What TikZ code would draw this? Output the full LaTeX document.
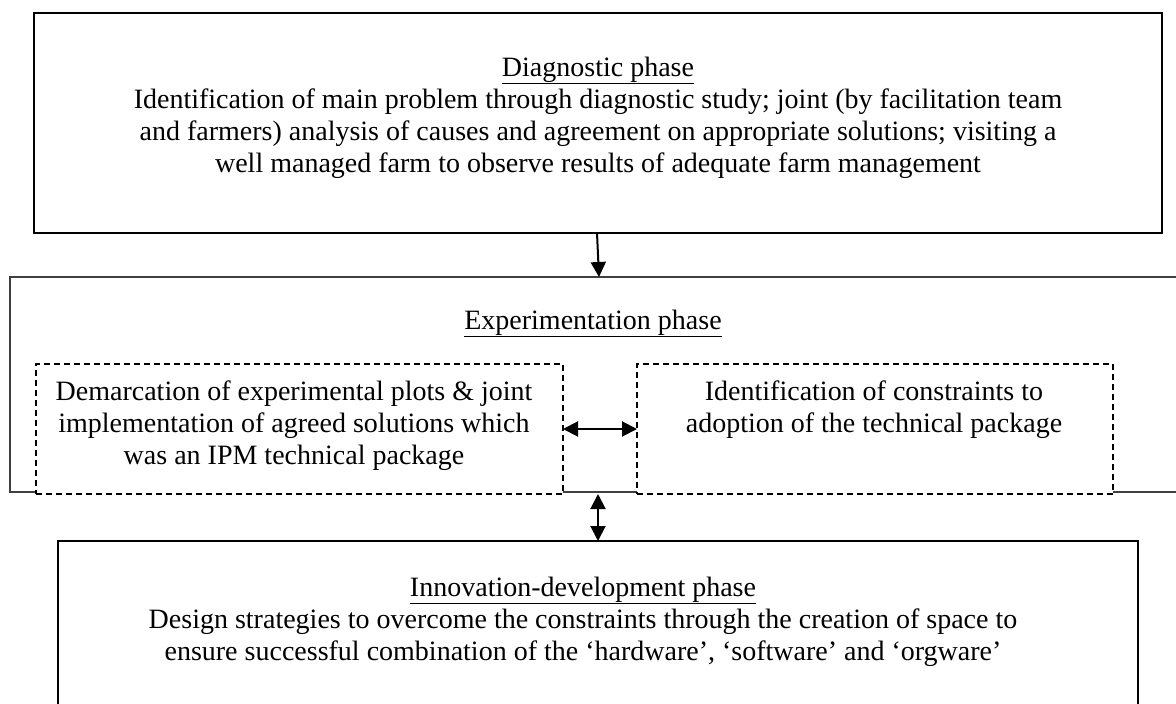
\documentclass[tikz,border=0pt]{standalone}
\usepackage{fontspec}
\setmainfont{Liberation Serif}
\usetikzlibrary{arrows.meta}
\begin{document}
\begin{tikzpicture}[x=1pt,y=-1pt,
  >={Triangle[length=15pt,width=15pt]},
  phasebox/.style={draw=black,line width=2pt,minimum width=#1,inner sep=0pt,outer sep=0pt},
  groupbox/.style={draw=black!75,line width=2pt,inner sep=0pt,outer sep=0pt},
  subbox/.style={draw=black,fill=white,line width=2pt,dash pattern=on 6pt off 4pt,inner sep=0pt,outer sep=0pt},
  txt/.style={anchor=base,inner sep=0pt,font=\fontsize{28}{32}\selectfont},
  link/.style={line width=2pt}]
\useasboundingbox (0,0) rectangle (1176,704);

% Diagnostic phase
\node[phasebox=1128pt,minimum height=220pt] (diag) at (598,123) {};
\node[txt] (diagtxt) at (598,76) {\begin{tabular}[t]{@{}c@{}}
\underline{Diagnostic phase}\\
Identification of main problem through diagnostic study; joint (by facilitation team\\
and farmers) analysis of causes and agreement on appropriate solutions; visiting a\\
well managed farm to observe results of adequate farm management
\end{tabular}};

% Experimentation phase with its two activities
\node[groupbox,minimum width=1168pt,minimum height=215pt] (exp) at (594,384.5) {};
\node[txt] (exptxt) at (593,329) {\underline{Experimentation phase}};
\node[subbox,minimum width=527pt,minimum height=130pt] (plots) at (299.5,429) {};
\node[subbox,minimum width=476pt,minimum height=130pt] (constr) at (875,429) {};
\node[txt] (plotstxt) at (294,400) {\begin{tabular}[t]{@{}c@{}}
Demarcation of experimental plots \& joint\\
implementation of agreed solutions which\\
was an IPM technical package
\end{tabular}};
\node[txt] (constrtxt) at (874,400) {\begin{tabular}[t]{@{}c@{}}
Identification of constraints to\\
adoption of the technical package
\end{tabular}};

% Innovation-development phase
\node[phasebox=1080pt,minimum height=166pt] (innov) at (598,624) {};
\node[txt] (innovtxt) at (583,596) {\begin{tabular}[t]{@{}c@{}}
\underline{Innovation-development phase}\\
Design strategies to overcome the constraints through the creation of space to\\
ensure successful combination of the ‘hardware’, ‘software’ and ‘orgware’
\end{tabular}};

% Connectors
\draw[link,->] ([xshift=-1pt]diag.south) -- ([xshift=5pt]exp.north);
\draw[link,<->] (plots.east) -- (constr.west);
\draw[link,<->] (innov.north |- plots.south) -- (innov.north);
\end{tikzpicture}
\end{document}
